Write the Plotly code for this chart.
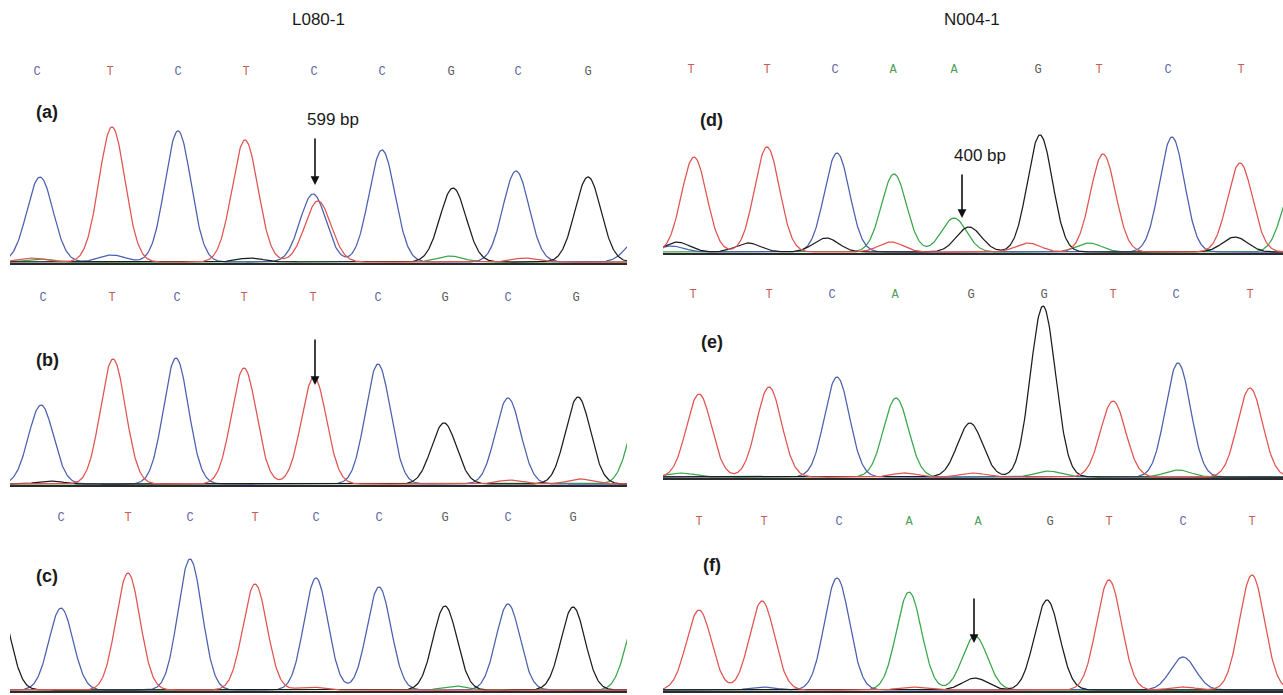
import numpy as np
import plotly.graph_objects as go

W, H = 1283, 695

titles = ["L080-1", "N004-1"]
panel_labels = ["(a)", "(b)", "(c)", "(d)", "(e)", "(f)"]

# ---- base calls shown above each trace ----
bases_a = ["C", "T", "C", "T", "C", "C", "G", "C", "G"]
bases_b = ["C", "T", "C", "T", "T", "C", "G", "C", "G"]
bases_c = ["C", "T", "C", "T", "C", "C", "G", "C", "G"]
bases_d = ["T", "T", "C", "A", "A", "G", "T", "C", "T"]
bases_e = ["T", "T", "C", "A", "G", "G", "T", "C", "T"]
bases_f = ["T", "T", "C", "A", "A", "G", "T", "C", "T"]

# base-call positions (scan units)
callpos_a = [27, 100, 168, 236, 304, 372, 441, 508, 578]
callpos_b = [33, 102, 167, 234, 303, 368, 435, 498, 566]
callpos_c = [51, 118, 180, 245, 306, 369, 435, 498, 563]
callpos_d = [28, 104, 172, 230, 291, 375, 436, 505, 578]
callpos_e = [30, 106, 169, 232, 308, 381, 450, 513, 587]
callpos_f = [36, 101, 176, 246, 315, 387, 446, 520, 589]

# ---- peaks: dye channel, scan position, signal height ----
peak_ch_a = ["C", "T", "C", "T", "C", "T", "C", "G", "C", "G", "C", "T", "A", "G", "A", "T", "C"]
peak_pos_a = [30, 102, 168, 235, 303, 308, 372, 443, 506, 578, 102, 22, 30, 240, 440, 515, 630]
peak_h_a = [85, 135, 131, 122, 68, 61, 112, 74, 91, 85, 7, 4, 3, 4, 6, 4, 25]

peak_ch_b = ["C", "T", "C", "T", "T", "C", "G", "C", "G", "A", "T", "T", "G"]
peak_pos_b = [31, 103, 166, 234, 304, 368, 434, 498, 568, 632, 500, 570, 40]
peak_h_b = [79, 125, 126, 116, 107, 120, 61, 86, 87, 80, 4, 5, 3]

peak_ch_c = ["G", "C", "T", "C", "T", "C", "C", "G", "C", "G", "A", "A", "T"]
peak_pos_c = [-12, 51, 118, 180, 245, 306, 369, 435, 498, 563, 628, 445, 300]
peak_h_c = [90, 82, 117, 131, 106, 112, 103, 84, 86, 83, 75, 4, 3]

peak_ch_d = ["T", "T", "C", "A", "A", "G", "G", "T", "C", "T",
             "G", "G", "G", "T", "T", "A", "G", "A", "C"]
peak_pos_d = [31, 104, 174, 231, 291, 306, 377, 440, 509, 577,
              14, 85, 163, 228, 365, 426, 572, 632, 8]
peak_h_d = [95, 105, 99, 78, 34, 25, 117, 98, 115, 89,
            10, 9, 14, 10, 9, 9, 15, 70, 6]

peak_ch_e = ["T", "T", "C", "A", "G", "G", "T", "C", "T", "A", "A", "A", "T", "T"]
peak_pos_e = [36, 106, 174, 233, 307, 380, 450, 515, 587, 18, 385, 515, 242, 310]
peak_h_e = [83, 90, 100, 79, 54, 171, 76, 114, 89, 4, 6, 7, 4, 4]

peak_ch_f = ["T", "T", "C", "A", "A", "G", "G", "T", "C", "T", "C", "T", "T"]
peak_pos_f = [36, 99, 174, 246, 312, 312, 384, 446, 520, 589, 100, 248, 520]
peak_h_f = [80, 89, 112, 98, 54, 12, 90, 110, 33, 115, 3, 3, 3]

peak_sigma = [13, 12.5, 12, 12.5, 12.5, 12.5]

# arrows (scan, head level, tail level)
arrow_pos = {0: (305, 77, 125), 1: (305, 99, 146), 3: (299, 34, 79), 5: (311, 47, 93)}
size_labels = {0: ("599 bp", 323, 142), 3: ("400 bp", 317, 96)}

# ---- layout geometry (pixels) ----
baselines = [262, 484, 690, 252, 477, 690]
x_left = [(10, 627), (663, 1283)]
call_levels = [190, 186, 172, 182, 182, 168]
label_levels = [150, 124, 114, 132, 135, 125]
label_pos = [37, 37, 37, 49, 49, 49]
panel_span = 205

line_col = {"A": "#3aa64a", "C": "#4b5fae", "G": "#1c1c1c", "T": "#e0534f"}
text_col = {"A": "#4f9d58", "C": "#62679e", "G": "#5a5a5a", "T": "#c85a58"}

panels = [
    (bases_a, callpos_a, peak_ch_a, peak_pos_a, peak_h_a),
    (bases_b, callpos_b, peak_ch_b, peak_pos_b, peak_h_b),
    (bases_c, callpos_c, peak_ch_c, peak_pos_c, peak_h_c),
    (bases_d, callpos_d, peak_ch_d, peak_pos_d, peak_h_d),
    (bases_e, callpos_e, peak_ch_e, peak_pos_e, peak_h_e),
    (bases_f, callpos_f, peak_ch_f, peak_pos_f, peak_h_f),
]

fig = go.Figure()
layout = dict(width=W, height=H, margin=dict(l=0, r=0, t=0, b=0),
              paper_bgcolor="white", plot_bgcolor="rgba(0,0,0,0)",
              showlegend=False, annotations=[])

for i, (bases, cpos, chs, pos, hts) in enumerate(panels):
    col = 0 if i < 3 else 1
    px0, px1 = x_left[col]
    xmax = px1 - px0
    xs = np.linspace(-5, xmax + 5, 900)
    sig = peak_sigma[i]
    n = i + 1
    xa = "x" if n == 1 else f"x{n}"
    ya = "y" if n == 1 else f"y{n}"
    for ch in ["A", "C", "G", "T"]:
        sig_y = np.zeros_like(xs)
        for c, p, h in zip(chs, pos, hts):
            if c == ch:
                sig_y += h * np.exp(-((xs - p) ** 2) / (2 * sig ** 2))
        fig.add_trace(go.Scatter(x=xs, y=sig_y, mode="lines", xaxis=xa, yaxis=ya,
                                 line=dict(color=line_col[ch], width=1.25),
                                 hoverinfo="skip"))
    fig.add_trace(go.Scatter(x=cpos, y=[call_levels[i]] * len(cpos), mode="text",
                             text=bases, xaxis=xa, yaxis=ya, cliponaxis=False,
                             textfont=dict(family="Liberation Mono", size=12,
                                           color=[text_col[b] for b in bases]),
                             hoverinfo="skip"))
    pb = baselines[i]
    ybot = 1 - (pb + 1) / H
    ytop = 1 - (pb - panel_span) / H
    xk = "xaxis" if n == 1 else f"xaxis{n}"
    yk = "yaxis" if n == 1 else f"yaxis{n}"
    layout[xk] = dict(domain=[px0 / W, px1 / W], range=[0, xmax], anchor=ya,
                      showgrid=False, zeroline=False, showticklabels=False,
                      ticks="", showline=True, linecolor="#2b2b2b", linewidth=2)
    layout[yk] = dict(domain=[ybot, min(ytop, 1)], range=[-1, panel_span], anchor=xa,
                      showgrid=False, zeroline=False, showticklabels=False,
                      ticks="", showline=False)
    layout["annotations"].append(dict(
        x=label_pos[i], y=label_levels[i], xref=xa, yref=ya, text=f"<b>{panel_labels[i]}</b>",
        showarrow=False, font=dict(family="Liberation Sans", size=18, color="#1a1a1a")))
    if i in arrow_pos:
        ap, head, tail = arrow_pos[i]
        layout["annotations"].append(dict(
            x=ap, y=head, ax=ap, ay=tail, xref=xa, yref=ya, axref=xa, ayref=ya,
            text="", showarrow=True, arrowhead=2, arrowsize=1.1, arrowwidth=1.6,
            arrowcolor="#111111"))
    if i in size_labels:
        t, sx, sy = size_labels[i]
        layout["annotations"].append(dict(
            x=sx, y=sy, xref=xa, yref=ya, text=t, showarrow=False,
            font=dict(family="Liberation Sans", size=17, color="#1a1a1a")))

for k, t in enumerate(titles):
    cx = [318, 972][k]
    layout["annotations"].append(dict(
        x=cx / W, y=1 - 19 / H, xref="paper", yref="paper", text=t, showarrow=False,
        xanchor="center", yanchor="middle",
        font=dict(family="Liberation Sans", size=17, color="#1a1a1a")))

fig.update_layout(**layout)
fig.write_html("out.html")
